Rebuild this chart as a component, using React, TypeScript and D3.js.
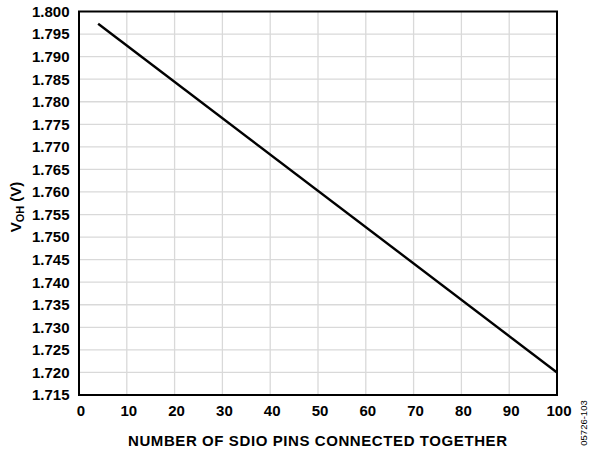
import React from "react";
import * as d3 from "d3";

const pins: number[] = [4, 100];
const voh: number[] = [1.7973, 1.7200];
const xTicks: number[] = [0, 10, 20, 30, 40, 50, 60, 70, 80, 90, 100];
const yTicks: number[] = [1.715, 1.72, 1.725, 1.73, 1.735, 1.74, 1.745, 1.75, 1.755, 1.76, 1.765, 1.77, 1.775, 1.78, 1.785, 1.79, 1.795, 1.8];

const W = 592, H = 451;
const L = 79, R = 557, T = 11.5, B = 395;
const font = "'Liberation Sans', Arial, sans-serif";

export default function App() {
  const x = d3.scaleLinear().domain([0, 100]).range([L, R]);
  const y = d3.scaleLinear().domain([1.715, 1.8]).range([B, T]);
  const data = pins.map((p, i) => [p, voh[i]] as [number, number]);
  const line = d3.line<[number, number]>().x(d => x(d[0])).y(d => y(d[1]));
  return (
    <svg width={W} height={H} style={{ position: "absolute", left: 0, top: 0, background: "#fff" }} fontFamily={font}>
      <rect x={0} y={0} width={W} height={H} fill="#fff" />
      {xTicks.slice(1, -1).map(t => (
        <line key={"gx" + t} x1={x(t)} x2={x(t)} y1={T} y2={B} stroke="#d9d9d9" strokeWidth={1.3} />
      ))}
      {yTicks.slice(1, -1).map(t => (
        <line key={"gy" + t} x1={L} x2={R} y1={y(t)} y2={y(t)} stroke="#d9d9d9" strokeWidth={1.3} />
      ))}
      <path d={line(data) || ""} fill="none" stroke="#000" strokeWidth={2.4} />
      <rect x={L} y={T} width={R - L} height={B - T} fill="none" stroke="#000" strokeWidth={2} />
      {yTicks.map(t => (
        <text key={"ty" + t} x={69.5} y={y(t)} dy="0.36em" textAnchor="end" fontSize={15} fontWeight="bold" fill="#000">
          {d3.format(".3f")(t)}
        </text>
      ))}
      {xTicks.map(t => (
        <text key={"tx" + t} x={x(t) + 2} y={416} textAnchor="middle" fontSize={15} fontWeight="bold" fill="#000">
          {t}
        </text>
      ))}
      <text x={128} y={446} textLength={379} lengthAdjust="spacing" fontSize={15} fontWeight="bold" fill="#000">
        NUMBER OF SDIO PINS CONNECTED TOGETHER
      </text>
      <text transform="translate(21,207) rotate(-90)" textAnchor="middle" fontSize={15} fontWeight="bold" fill="#000">
        V<tspan fontSize={11} dy={3}>OH</tspan><tspan dy={-3}> (V)</tspan>
      </text>
      <text transform="translate(587,423) rotate(-90)" textAnchor="middle" fontSize={9.5} fill="#000">
        05726-103
      </text>
    </svg>
  );
}
